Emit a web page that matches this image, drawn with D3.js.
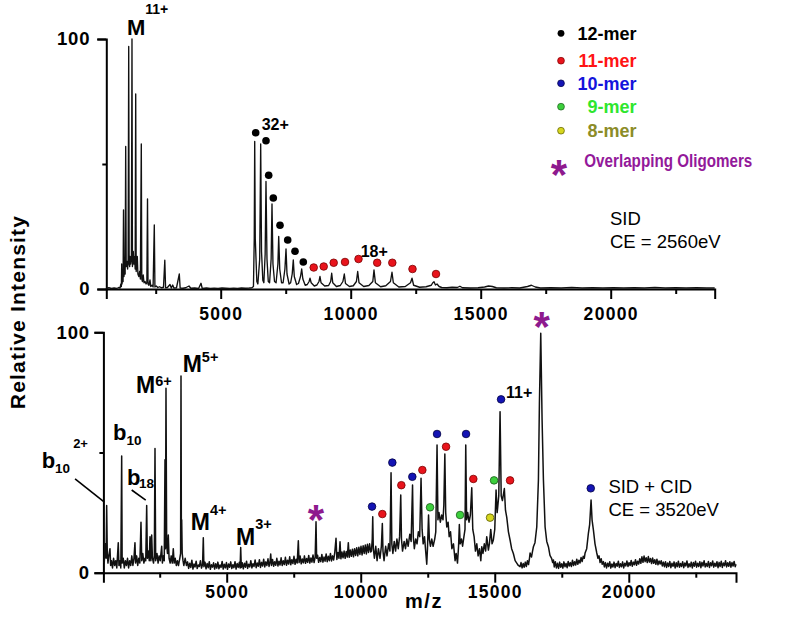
<!DOCTYPE html>
<html><head><meta charset="utf-8">
<script src="https://cdn.jsdelivr.net/npm/d3@7"></script>
<style>
body{margin:0;background:#fff;}
text{font-family:"Liberation Sans",Arial,Helvetica,sans-serif;}
</style></head><body>
<svg id="chart" width="800" height="621"></svg>
<script>
// ---------------- DATA ----------------
const xTickValues = [2500,5000,7500,10000,12500,15000,17500,20000,22500];
const xTickLabels = ["","5000","","10000","","15000","","20000",""];
const yTickValues = [0,50,100];
const yTickLabels = ["0","","100"];

// Top spectrum (SID, CE = 2560 eV): [m/z, relative intensity]
const topTrace = [
[600,0.3],[700,0.5],[800,0.2],[900,0.4],[1000,0.2],[1080,0.6],[1130,0.4],[1160,2],[1180,1],[1192,10],[1205,2],[1225,4],[1245,3],[1262,31.6],[1280,5],[1300,8],[1325,6],[1346,57],[1365,9],[1390,11],[1420,8],[1440,12],[1462,97],[1480,10],[1500,9],[1515,13],[1540,10],[1565,12],[1588,100],[1605,9],[1625,11],[1638,15],[1660,10],[1690,13],[1710,8],[1731,78],[1750,7],[1770,10],[1792,13],[1815,6],[1850,5],[1880,7],[1910,4],[1946,58],[1965,4],[1990,3],[2020,5.6],[2050,2.5],[2090,3],[2130,2],[2160,2.5],[2185,36],[2205,2],[2240,1.5],[2281,3.6],[2310,1],[2360,1.5],[2400,0.8],[2446,25.6],[2470,0.8],[2520,1.2],[2580,0.6],[2650,0.9],[2720,0.5],[2800,0.7],[2850,11.5],[2880,0.5],[2950,0.6],[3050,1.8],[3100,0.4],[3154,1.6],[3200,0.4],[3300,0.5],[3408,6],[3440,0.4],[3550,0.3],[3650,0.5],[3781,1.2],[3850,0.3],[4000,0.4],[4150,0.2],[4242,2.3],[4290,0.2],[4450,0.4],[4600,0.2],[4750,0.3],[4900,0.2],[5050,0.4],[5200,0.3],[5350,0.2],[5500,0.3],[5650,0.2],[5800,0.4],[5950,0.3],[6100,0.4],[6200,0.5],[6260,1],
[6290,20],[6308,59],[6330,20],[6390,3],[6430,2],[6500,12],[6538,58],[6570,15],[6620,3.5],[6660,2.5],[6710,14],[6742,43],[6780,12],[6830,3],[6880,2.5],[6940,12],[6973,34],[7010,10],[7070,3],[7130,2.5],[7200,10],[7231,21],[7270,8],[7340,2.5],[7400,2.5],[7470,8],[7512,16],[7550,6],[7630,2],[7690,2.5],[7750,6],[7792,11.6],[7830,5],[7920,1.8],[7990,2.2],[8070,5],[8115,8],[8160,4],[8250,1.5],[8330,1.8],[8400,3],[8435,4.3],[8480,2.5],[8600,1.2],[8700,1.6],[8780,3],[8819,5],[8860,2.5],[9000,1.2],[9150,1.4],[9230,3],[9269,6.3],[9310,2.5],[9450,1],[9600,1.4],[9700,3],[9754,6],[9800,2.2],[9950,1],[10100,1.3],[10220,3],[10269,7],[10320,2.5],[10500,1],[10700,1.4],[10850,3],[10896,7.6],[10950,2.5],[11150,0.9],[11350,1.3],[11530,3],[11588,6.7],[11640,2.5],[11850,0.8],[12100,1],[12300,2.5],[12358,4.3],[12420,1.5],[12650,0.7],[12900,0.9],[13100,1.5],[13150,2.4],[13204,2.9],[13260,1.6],[13320,2],[13400,1],[13500,0.6],[13700,0.5],[13900,0.7],[14100,0.6],[14200,1.1],[14300,0.5],[14600,0.4],[14900,0.5],[15150,0.8],[15300,1.2],[15450,1],[15600,0.5],[15900,0.4],[16200,0.5],[16500,0.4],[16800,1],[16950,1.5],[17100,0.8],[17300,0.4],[17700,0.5],[18100,0.4],[18500,0.6],[18900,0.4],[19300,0.5],[19700,0.4],[20100,0.5],[20500,0.4],[20900,0.5],[21300,0.4],[21700,0.6],[22100,0.4],[22500,0.5],[22900,0.4],[23300,0.5],[23700,0.4],[24000,0.4]
];

// Bottom spectrum (SID + CID, CE = 3520 eV): [m/z, relative intensity]
const bottomTraceLow = [
[430,4],[470,12],[500,6],[522,28],[545,8],[570,4],[600,7],[646,10],[670,3],[700,5],[740,2],[780,6],[820,3],[860,5],[900,2],[955,12.5],[980,3],[1020,5],[1050,2],[1082,48.5],[1100,4],[1140,6],[1180,2],[1220,5],[1260,3],[1300,6],[1340,2],[1380,5],[1420,3],[1460,7],[1500,3],[1540,6],[1578,12.5],[1600,4],[1640,7],[1680,3],[1720,6],[1760,4],[1802,21],[1830,5],[1870,8],[1910,4],[1950,6],[1980,5],[2015,28],[2040,6],[2080,9],[2110,5],[2138,15],[2170,5],[2201,15.7],[2230,6],[2270,4],[2300,7],[2325,51.7],[2350,5],[2400,8],[2440,4],[2480,7],[2520,5],[2575,11],[2600,4],[2640,7],[2670,5],[2698,47],[2715,10],[2735,76.7],[2760,12],[2790,8],[2821,15.7],[2850,6],[2890,4],[2930,7],[2970,4],[3007,10],[3040,4],[3080,6],[3120,3],[3160,5],[3200,3],[3250,6],[3280,8],[3295,81.8],[3310,10],[3321,22],[3340,8],[3370,5],[3400,3],[3450,6],[3500,3],
[3540,4.5],[3580,1.8],[3620,3.9],[3660,2.2],[3700,5.2],[3740,1.5],[3780,3.6],[3820,2.4],[3860,4.8],[3900,1.7],[3940,3.2],[3980,2.6],[4020,5],[4060,1.9],[4100,3.5],[4127,14.5],[4150,2.5],[4190,4.4],[4230,1.6],[4270,3.8],[4310,2.1],[4350,4.6],[4390,1.4],[4430,3.3],[4470,2.3],[4510,4.1],[4550,1.5],[4590,3.7],[4630,1.9],[4670,4.4],[4710,1.6],[4750,3.2],[4790,2.2],[4830,4.7],[4870,1.5],[4910,3.5],[4950,2],[4990,4.2],[5030,1.4],[5070,3.6],[5110,2.3],[5150,4.5],[5190,1.7],[5230,3.3],[5270,2.1],[5310,4.6],[5350,1.5],[5390,3.8],[5430,2.2],[5470,4.3],[5500,2],[5522,10.5],[5545,2.2],[5580,4.1],[5620,1.6],[5660,3.9],[5700,2.3],[5740,4.8],[5780,1.8],[5820,3.5],[5860,2.4],[5900,5],[5940,2],[5980,3.7],[6020,2.6],[6060,5.3],[6100,2.1],[6140,4],[6180,2.7],[6220,5.4],[6260,2.2],[6300,4.3],[6340,2.8],[6380,5.6],[6420,2.4],[6460,4.5],[6500,3],[6540,5.8],[6580,2.6],[6615,4.4],[6642,7.8],[6670,3],[6710,5.5],[6750,2.7],[6790,4.6],[6830,3.1],[6870,6],[6910,2.8],[6950,4.8],[6990,3.2],
[7030,6.2],[7070,3],[7110,5],[7150,3.4],[7190,6.4],[7230,3.1],[7270,5.2],[7310,3.6],[7350,6.6],[7390,3.3],[7430,5.4],[7470,3.8],[7510,6.8],[7550,3.5],[7590,5.6],[7630,4],[7672,13.3],[7700,4.2],[7740,6.9],[7780,3.7],[7820,5.7],[7860,4.1],[7900,7],[7940,3.9],[7980,5.9],[8020,4.3],[8060,7.2],[8100,4],[8140,6.1],[8180,4.4],[8220,7.4],[8260,4.2],[8300,6.5],[8332,21.2],[8355,6],[8390,7.3],[8430,4.3],[8470,6.3],[8510,4.6],[8550,7.6],[8590,4.4],[8630,6.5],[8670,4.8],[8710,7.8],[8750,4.6],[8790,6.8],[8830,5],[8870,8],[8910,4.9],[8950,7],[8990,5.3],[9030,8.2],[9078,14.3],[9110,5.5],[9150,8.4],[9190,6],[9228,12.9],[9260,5.8],[9300,8.6],[9340,6.2],[9380,9],[9420,6],[9460,8.8],[9500,6.5],[9537,12.5],[9570,6.4],[9610,9.4],[9650,6.8],[9690,9.8],[9730,6.6],[9770,10],[9810,7.2],[9850,10.4],[9890,7],[9930,10.6],[9970,7.6],[10010,11],[10050,7.4],[10090,11.2],[10130,8],[10170,11.5],[10210,7.8],[10250,11.8],[10290,8.4],[10330,12],[10370,8.6]
];
const bottomTraceMid = [
[10400,9],[10430,14],[10448,23.3],[10470,10],[10510,6],[10560,11],[10610,5],[10660,10],[10720,6],[10770,11],[10806,20.5],[10830,9],[10870,5],[10930,11],[10980,7],[11040,12],[11090,9],[11131,41.6],[11160,12],[11200,8],[11250,13],[11300,9],[11350,14],[11400,10],[11450,15],[11493,32.3],[11520,14],[11560,9],[11620,13],[11670,10],[11720,14],[11770,11],[11830,16],[11880,13],[11933,36.5],[11960,15],[12000,10],[12050,14],[12100,12],[12150,17],[12200,15],[12250,39.3],[12290,18],[12330,12],[12380,15],[12430,8],[12463,3.5],[12490,10],[12530,24],[12560,14],[12600,11],[12650,14],[12700,11],[12760,14],[12800,17],[12847,53.1],[12880,22],[12920,25],[12970,21],[13020,24],[13070,22],[13100,28],[13138,49.4],[13170,25],[13210,19],[13260,21],[13300,15],[13350,17],[13400,10],[13460,12],[13520,5],[13560,8],[13610,4],[13650,11],[13679,20],[13710,12],[13760,14],[13800,11],[13850,15],[13890,18],[13918,53.1],[13950,22],[13990,25],[14040,21],[14090,24],[14142,35.3],[14180,18],[14230,15],[14280,9],[14330,12],[14380,7],[14430,10],[14480,5],[14515,10.8],[14560,8],[14610,12],[14660,9],[14701,15],[14763,9.4],[14800,12],[14851,18],[14900,12],[14948,13.6],[15000,18],[15049,34.4],[15090,25],[15112,27.5],[15150,32],[15198,67],[15240,32],[15285,30],[15330,33],[15358,35],[15400,26],[15448,23],[15510,17],[15571,13.6],[15630,10],[15694,8],[15760,5],[15821,4],[15880,3],[15944,2.5]
];
const bottomTraceHigh = [
[15980,4.2],[16020,2],[16060,3.8],[16100,2.3],[16140,4.4],[16180,2.6],[16220,5],[16260,3.4],[16290,5.5],[16318,8.2],[16370,6.5],[16410,9],[16442,10.8],[16500,12.5],[16567,19],[16629,38.6],[16666,70.6],[16716,99.6],[16766,63.5],[16816,38.6],[16878,19],[16940,13],[17002,10.8],[17060,7.2],[17120,6],[17160,4.2],[17189,5.3],
[17220,2.4],[17260,4.6],[17300,2],[17340,3.9],[17380,1.8],[17420,4.4],[17460,2.3],[17500,3.7],[17540,1.9],[17580,4.5],[17620,2.5],[17660,3.8],[17700,2.1],[17740,4.7],[17780,2.8],[17820,4.2],[17860,2.6],[17900,5.2],[17940,3],[17980,4.6],[18020,3.2],[18060,5.6],[18100,3.5],[18140,5.2],[18180,4],[18220,6.3],[18260,4.6],[18300,6.8],[18340,6],[18370,8.2],[18430,10],[18494,16.5],[18540,20],[18593,30.2],[18630,22],[18680,17.8],[18740,12],[18806,8.2],[18850,6],[18890,7],[18930,4.2],[18970,5.8],[19010,3.5],[19053,4.6],
[19090,2.4],[19130,4.2],[19170,2],[19210,3.9],[19250,2.6],[19290,4.6],[19330,1.9],[19370,3.6],[19410,2.4],[19450,4.4],[19490,2.1],[19530,3.8],[19570,2.7],[19610,4.8],[19650,2.2],[19690,3.7],[19730,2.5],[19770,4.5],[19810,2],[19850,3.9],[19890,2.8],[19930,4.9],[19970,2.6],[20010,4.2],[20050,3],[20090,5.1],[20130,2.7],[20170,4.4],[20210,3.3],[20250,5.4],[20290,3.1],[20330,4.8],[20370,3.6],[20410,5.8],[20450,3.9],[20490,6.6],[20530,4.3],[20570,6.9],[20610,4.6],[20650,6.2],[20690,4.2],[20730,6.7],[20770,4.4],[20810,5.9],[20850,3.8],[20890,6.1],[20930,3.9],[20970,5.4],[21010,3.5],[21050,5.6],[21090,3.3],[21130,4.9],[21170,3.6],[21210,5],[21250,2.8],[21290,4.4],[21330,2.5],[21370,4.6],[21410,2.2],[21450,4],[21490,2.6],[21530,4.7],[21570,2.1],[21610,3.9],[21650,2.7],[21690,4.5],[21730,2],[21770,4.1],[21810,2.5],[21850,4.8],[21890,2.3],[21930,3.8],[21970,2.6],[22010,4.6],[22050,2.1],[22090,4],[22130,2.8],[22170,4.9],[22210,2.2],[22250,3.7],[22290,2.5],[22330,4.4],[22370,2],[22410,4.2],[22450,2.7],[22490,4.8],[22530,2.3],[22570,3.9],[22610,2.6],[22650,4.6],[22690,2.1],[22730,4.3],[22770,2.8],[22810,5],[22850,2.4],[22890,3.8],[22930,2.6],[22970,4.7],[23010,2.2],[23050,4.1],[23090,2.9],[23130,4.9],[23170,2.3],[23210,3.9],[23250,2.7],[23290,4.6],[23330,2.1],[23370,4.3],[23410,2.6],[23450,4.8],[23490,2.2],[23530,4],[23570,2.9],[23610,5],[23650,2.4],[23690,4.1],[23730,2.7],[23770,4.6],[23810,2.3],[23850,4.2],[23890,2.8],[23930,4.7],[23970,2.5],[24000,3.5]
];

// Oligomer markers: [m/z, relative intensity]
const top12mer = [[6346,62.5],[6742,59.3],[6846,45.5],[7023,36.4],[7281,25.5],[7577,19.6],[7858,15.1],[8177,10.8]];
const top11mer = [[8577,8.6],[8962,9],[9346,10.5],[9781,10.8],[10300,12],[11019,10.5],[11600,10.5],[12377,8],[13281,6]];
const bottom10mer = [[10422,27.5],[11179,45.8],[11925,39.9],[12847,57.7],[13929,57.7],[15235,72.1],[18582,35.1]];
const bottom11mer = [[10806,24.4],[11515,36.4],[12299,42.7],[13183,52.4],[14201,39],[15571,38.4]];
const bottom9mer = [[12586,27.2],[13705,24],[14974,38.4]];
const bottom8mer = [[14825,22.9]];
const bottomStars = [[8332,26.4],[16754,106.5]];

const legendLabels = ["12-mer","11-mer","10-mer","9-mer","8-mer","Overlapping Oligomers"];

// Annotations anchored in data coordinates [m/z, rel. intensity]
const topLabels = [
  {text:"M", sup:"11+", mz:1396, rel:101.6},
  {text:"32+", mz:6577, rel:63.6},
  {text:"18+", mz:10385, rel:12.8}
];
const bottomLabels = [
  {text:"b", sub:"10", sup:"2+", mz:-1903, rel:43.6},
  {text:"b", sub:"10", mz:757, rel:55.2},
  {text:"b", sub:"18", mz:1280, rel:36.5},
  {text:"M", sup:"6+", mz:1616, rel:74.8},
  {text:"M", sup:"5+", mz:3358, rel:83.6},
  {text:"M", sup:"4+", mz:3657, rel:17.8},
  {text:"M", sup:"3+", mz:5347, rel:11.5},
  {text:"11+", mz:15422, rel:72.7}
];
const bottomLeaders = [[[-657,39],[425,29.5]],[[1455,34.4],[1978,30.2]]];
const topCondition = ["SID","CE = 2560eV"];
const topConditionAnchor = [[19973,25.6],[19973,16.4]];
const bottomCondition = ["SID + CID","CE = 3520eV"];
const bottomConditionAnchor = [[19239,33.2],[19239,23.6]];

// ---------------- DRAWING ----------------
const svg = d3.select("#chart");
const FONT = '"Liberation Sans",Arial,Helvetica,sans-serif';
const colors = {
  m12:"#000000", m11:"#e8141c", m10:"#1414b4", m9:"#3ccf3c", m8:"#d6d61e", star:"#8e1a8e"
};
const legendTextColors = ["#000000","#ff1414","#1414dc","#2ee62e","#8c8c28","#93199a"];

const panels = [
  {x: d3.scaleLinear().domain([600,24000]).range([106.3,714.7]),
   y: d3.scaleLinear().domain([0,100]).range([289,39]),
   yTickPad: 7, xLabelOffset: 31, lw: 1.35},
  {x: d3.scaleLinear().domain([400,24000]).range([103.4,736]),
   y: d3.scaleLinear().domain([0,100]).range([572.7,332.3]),
   yTickPad: 4.5, xLabelOffset: 25.5, lw: 1.5}
];

function drawAxes(p){
  const gx = svg.append("g").attr("transform",`translate(0,${p.y(0)})`)
    .call(d3.axisBottom(p.x).tickValues(xTickValues).tickSizeOuter(0)
      .tickFormat((d,i)=>xTickLabels[i]).tickSize(10));
  gx.selectAll(".tick line").attr("y2",(d,i)=> xTickLabels[i] ? 10 : 5);
  gx.selectAll(".tick text").attr("y",p.xLabelOffset).attr("dy",null)
    .style("font-size","17.5px").style("font-weight","bold").style("letter-spacing","1.3px")
    .style("font-family",FONT).attr("fill","#000");
  const gy = svg.append("g").attr("transform",`translate(${p.x.range()[0]},0)`)
    .call(d3.axisLeft(p.y).tickValues(yTickValues).tickSizeOuter(0)
      .tickFormat((d,i)=>yTickLabels[i]).tickSize(9).tickPadding(p.yTickPad));
  gy.selectAll(".tick line").attr("x2",(d,i)=> yTickLabels[i] ? -9 : -4);
  gy.selectAll(".tick text").style("font-size","18.5px").style("font-weight","bold")
    .style("letter-spacing","0.8px").style("font-family",FONT).attr("fill","#000");
  [gx,gy].forEach(g=>{
    g.selectAll("path.domain,.tick line").attr("stroke","#000").attr("stroke-width",2);
  });
}

function drawTrace(p, data){
  const line = d3.line().x(d=>p.x(d[0])).y(d=>p.y(d[1]));
  svg.append("path").datum(data).attr("d",line)
    .attr("fill","none").attr("stroke","#111").attr("stroke-width",p.lw)
    .attr("stroke-linejoin","round");
}

function drawDots(p, data, fill, stroke){
  svg.append("g").selectAll("circle").data(data).join("circle")
    .attr("cx",d=>p.x(d[0])).attr("cy",d=>p.y(d[1])).attr("r",3.8)
    .attr("fill",fill).attr("stroke",stroke).attr("stroke-width",stroke==="none"?0:0.8);
}

function star(x,y,size){
  svg.append("text").attr("x",x).attr("y",y+size*0.58).attr("text-anchor","middle")
    .style("font-family",FONT).style("font-weight","bold").style("font-size",size+"px")
    .attr("fill",colors.star).text("*");
}

// Axes + traces
drawAxes(panels[0]); drawAxes(panels[1]);
drawTrace(panels[0], topTrace);
drawTrace(panels[1], bottomTraceLow.concat(bottomTraceMid, bottomTraceHigh));

// Markers
drawDots(panels[0], top12mer, colors.m12, "none");
drawDots(panels[0], top11mer, colors.m11, "#7a0000");
drawDots(panels[1], bottom10mer, colors.m10, "#000040");
drawDots(panels[1], bottom11mer, colors.m11, "#7a0000");
drawDots(panels[1], bottom9mer, colors.m9, "#1c5c1c");
drawDots(panels[1], bottom8mer, colors.m8, "#5a5a00");
bottomStars.forEach(d=> star(panels[1].x(d[0]), panels[1].y(d[1]), 42));

// Annotation text
const labelStyle = {
  top: [{size:22, supSize:14, supDy:-21},{size:16},{size:16}],
  bottom: [
    {size:22, subSize:13.5, subDy:5, supSize:13, supDy:-25, supDx:3},
    {size:22, subSize:13.5, subDy:5},
    {size:22, subSize:13.5, subDy:3.5, subDx:-1.5},
    {size:23, supSize:14.5, supDy:-6.5},
    {size:23, supSize:14.5, supDy:-10},
    {size:23, supSize:14.5, supDy:-15},
    {size:23, supSize:14.5, supDy:-16},
    {size:16}
  ]
};
function drawLabels(p, labels, styles){
  labels.forEach((l,i)=>{
    const s = styles[i];
    const t = svg.append("text").attr("x",p.x(l.mz)).attr("y",p.y(l.rel))
      .style("font-family",FONT).style("font-weight","bold").attr("fill","#000");
    t.append("tspan").style("font-size",s.size+"px").text(l.text);
    if(l.sub){
      t.append("tspan").style("font-size",s.subSize+"px").attr("dy",s.subDy)
        .attr("dx",s.subDx||0).text(l.sub);
    }
    if(l.sup){
      t.append("tspan").style("font-size",s.supSize+"px").attr("dy",s.supDy)
        .attr("dx",s.supDx||0).text(l.sup);
    }
  });
}
drawLabels(panels[0], topLabels, labelStyle.top);
drawLabels(panels[1], bottomLabels, labelStyle.bottom);

bottomLeaders.forEach(seg=>{
  svg.append("line").attr("x1",panels[1].x(seg[0][0])).attr("y1",panels[1].y(seg[0][1]))
    .attr("x2",panels[1].x(seg[1][0])).attr("y2",panels[1].y(seg[1][1]))
    .attr("stroke","#000").attr("stroke-width",1.6);
});

// Conditions text
function drawCondition(p, lines, anchors){
  lines.forEach((s,i)=>{
    svg.append("text").attr("x",p.x(anchors[i][0])).attr("y",p.y(anchors[i][1]))
      .style("font-family",FONT).style("font-size","18.5px").attr("fill","#000").text(s);
  });
}
drawCondition(panels[0], topCondition, topConditionAnchor);
drawCondition(panels[1], bottomCondition, bottomConditionAnchor);

// Axis titles
svg.append("text").attr("transform","translate(25,312) rotate(-90)").attr("text-anchor","middle")
  .style("font-family",FONT).style("font-weight","bold").style("font-size","21px")
  .style("letter-spacing","1.2px").attr("fill","#000").text("Relative Intensity");
svg.append("text").attr("x",424).attr("y",608).attr("text-anchor","middle")
  .style("font-family",FONT).style("font-weight","bold").style("font-size","20px")
  .style("letter-spacing","1.5px").attr("fill","#000").text("m/z");

// Legend
const legendRows = [33.3,60.7,83.3,106.7,130.7];
const legendFills = [colors.m12,colors.m11,colors.m10,colors.m9,colors.m8];
const legendStrokes = ["none","#7a0000","#000040","#1c5c1c","#5a5a00"];
legendRows.forEach((yy,i)=>{
  svg.append("circle").attr("cx",561).attr("cy",yy).attr("r",3.4)
    .attr("fill",legendFills[i]).attr("stroke",legendStrokes[i]).attr("stroke-width",legendStrokes[i]==="none"?0:0.7);
  svg.append("text").attr("x",636.5).attr("y",yy).attr("dy","0.36em").attr("text-anchor","end")
    .style("font-family",FONT).style("font-weight","bold").style("font-size","18px")
    .attr("fill",legendTextColors[i]).text(legendLabels[i]);
});
star(559,165,42);
svg.append("text").attr("x",584.3).attr("y",166.5).attr("textLength",168).attr("lengthAdjust","spacingAndGlyphs")
  .style("font-family",FONT).style("font-weight","bold").style("font-size","18px")
  .attr("fill",legendTextColors[5]).text(legendLabels[5]);
</script>
</body></html>
